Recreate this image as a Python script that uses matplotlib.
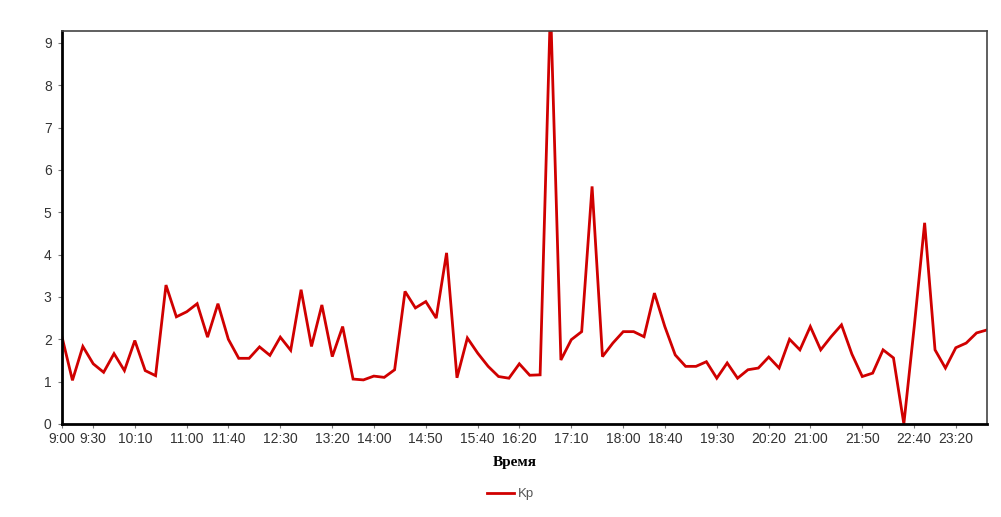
import matplotlib
matplotlib.use("Agg")
import matplotlib.pyplot as plt

# === Données Kp (pas de 10 min, 9:00 -> 23:50) ===
times = [f"{h}:{m:02d}" for h in range(9, 24) for m in range(0, 60, 10)]
kp = [
    2.05, 1.03, 1.83, 1.42, 1.22, 1.66, 1.26, 1.97, 1.26, 1.14,
    3.28, 2.53, 2.65, 2.84, 2.05, 2.84, 2.00, 1.55, 1.55, 1.82,
    1.62, 2.05, 1.74, 3.17, 1.83, 2.81, 1.59, 2.30, 1.06, 1.04,
    1.13, 1.10, 1.28, 3.13, 2.74, 2.89, 2.50, 4.04, 1.09, 2.03,
    1.67, 1.36, 1.12, 1.08, 1.42, 1.15, 1.16, 9.90, 1.51, 1.99,
    2.18, 5.61, 1.59, 1.91, 2.18, 2.18, 2.06, 3.09, 2.30, 1.63,
    1.36, 1.36, 1.47, 1.08, 1.44, 1.08, 1.28, 1.32, 1.58, 1.32,
    2.00, 1.75, 2.30, 1.75, 2.06, 2.34, 1.65, 1.12, 1.20, 1.75,
    1.56, 0.00, 2.30, 4.75, 1.75, 1.32, 1.80, 1.91, 2.15, 2.22,
]
shown_labels = [
    "9:00", "9:30", "10:10", "11:00", "11:40", "12:30", "13:20", "14:00",
    "14:50", "15:40", "16:20", "17:10", "18:00", "18:40", "19:30", "20:20",
    "21:00", "21:50", "22:40", "23:20",
]
y_ticks = list(range(0, 10))

fig = plt.figure(figsize=(10.01, 5.17), dpi=100)
ax = fig.add_axes([0.062, 0.180, 0.924, 0.760])

x = list(range(len(times)))
ax.plot(x, kp, color="#d00000", lw=2.0, label="Kp", solid_joinstyle="miter")

ax.set_xlim(0, len(times) - 1)
ax.set_ylim(0, 9.28)

tick_pos = [times.index(t) for t in shown_labels]
ax.set_xticks(tick_pos)
ax.set_xticklabels(shown_labels)
ax.set_yticks(y_ticks)

for lab in ax.get_xticklabels() + ax.get_yticklabels():
    lab.set_family("Liberation Sans")
    lab.set_fontsize(10)
    lab.set_color("#333333")
ax.tick_params(axis="both", length=3, width=0.8, color="#777777")
ax.tick_params(axis="x", pad=2.5)
ax.tick_params(axis="y", pad=4.5)

for side in ("left", "bottom"):
    ax.spines[side].set_linewidth(2.0)
    ax.spines[side].set_color("black")
for side in ("top", "right"):
    ax.spines[side].set_linewidth(1.2)
    ax.spines[side].set_color("#444444")

ax.set_xlabel("Время", family="Liberation Serif", fontweight="bold",
              fontsize=11, color="black")
ax.xaxis.set_label_coords((515 - 62) / 925, -0.082)

leg = fig.legend(loc="center", bbox_to_anchor=(0.51, 0.044), frameon=False,
                 handlelength=2.0, handletextpad=0.3,
                 prop={"family": "Liberation Sans", "size": 9.5})
for t in leg.get_texts():
    t.set_color("#555555")

fig.savefig("out.png", dpi=100)
plt.close(fig)
